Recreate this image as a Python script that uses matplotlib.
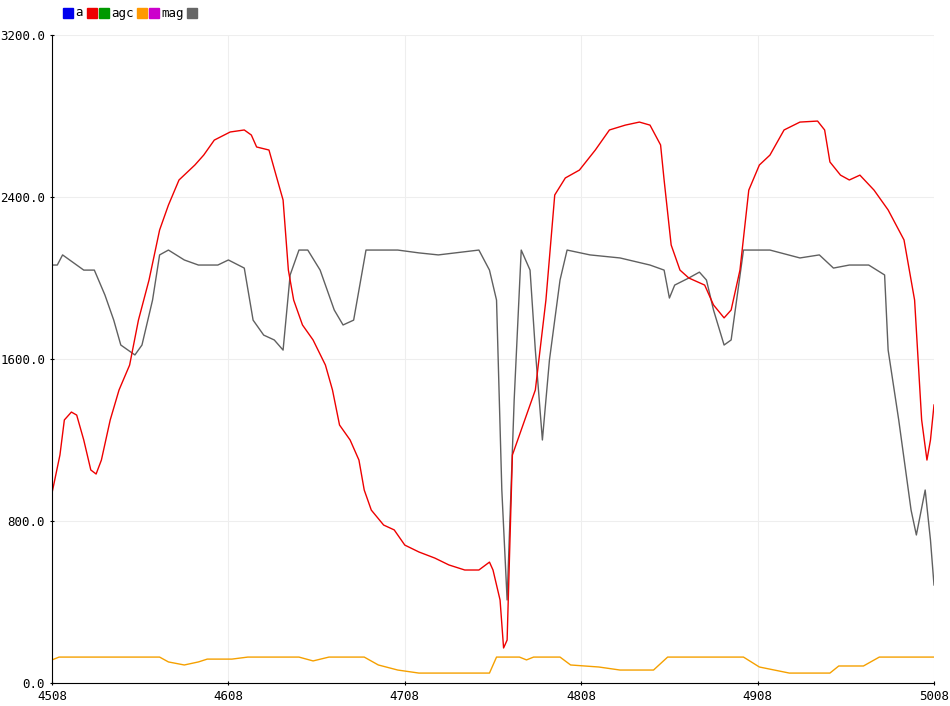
import matplotlib
matplotlib.use("Agg")
import matplotlib.pyplot as plt
from matplotlib.patches import Rectangle

red_x = [4508,4512.5,4515,4519,4522,4526,4530,4533,4536,4541,4546,4552,4557,4563,4569,4574,4580,4589,4594,4600,4609,4617,4621,4624,4631,4635,4639,4642,4645,4650,4656,4663,4667,4671,4677,4682,4685,4689,4696,4702,4708,4716,4725,4733,4742,4750,4756,4758,4762,4764,4766,4769,4772,4776,4782,4788,4793,4799,4807,4816,4824,4833,4841,4847,4853,4855,4859,4864,4869,4878,4883,4889,4893,4898,4903,4909,4915,4923,4932,4942,4946,4949,4955,4960,4966,4974,4982,4991,4997,5001,5004,5006,5008]
red_y = [938,1126,1299,1338,1323,1200,1052,1032,1101,1299,1447,1570,1792,1990,2237,2360,2484,2558,2607,2681,2721,2731,2706,2647,2632,2508,2385,2039,1891,1768,1694,1570,1447,1274,1200,1101,953,854,780,756,681,647,617,583,558,558,597,558,410,173,212,1126,1200,1299,1447,1891,2410,2494,2533,2632,2731,2755,2770,2755,2657,2484,2163,2039,2000,1965,1867,1803,1842,2039,2434,2558,2607,2731,2770,2775,2731,2573,2508,2484,2508,2434,2336,2188,1891,1299,1101,1200,1373]

mag_x = [4508,4511,4514,4518,4526,4532,4538,4543,4547,4555,4559,4565,4569,4574,4583,4591,4602,4608,4617,4622,4628,4634,4639,4643,4648,4653,4660,4668,4673,4679,4686,4693,4704,4716,4727,4750,4756,4760,4763,4766,4770,4774,4779,4782,4786,4790,4796,4800,4813,4830,4847,4855,4858,4861,4869,4875,4879,4883,4889,4893,4900,4915,4932,4943,4951,4960,4971,4980,4982,4988,4995,4998,5003,5006,5008]
mag_y = [2064,2064,2114,2089,2039,2039,1916,1792,1669,1620,1669,1891,2114,2138,2089,2064,2064,2089,2049,1792,1718,1694,1644,2015,2138,2138,2039,1842,1768,1792,2138,2138,2138,2124,2114,2138,2039,1891,953,410,1397,2138,2039,1644,1200,1595,1990,2138,2114,2099,2064,2039,1901,1965,2000,2029,1990,1842,1669,1694,2138,2138,2099,2114,2049,2064,2064,2015,1644,1299,854,731,953,706,484]

agc_x = [4508,4512,4569,4574,4583,4591,4596,4610,4619,4648,4656,4665,4685,4693,4704,4716,4756,4760,4773,4777,4781,4796,4802,4818,4830,4849,4857,4900,4909,4926,4949,4954,4968,4977,5008]
agc_y = [114,128,128,104,89,104,118,118,128,128,109,128,128,89,64,49,49,128,128,114,128,128,89,79,64,64,128,128,79,49,49,84,84,128,128]

x_ticks = [4508,4608,4708,4808,4908,5008]
y_ticks = [0,800,1600,2400,3200]

fig = plt.figure(figsize=(9.5,7.06), dpi=100)
ax = fig.add_axes([52/950, 23/706, 882/950, 648/706])
ax.plot(agc_x, agc_y, color='#f5a000', lw=1)
ax.plot(mag_x, mag_y, color='#606060', lw=1)
ax.plot(red_x, red_y, color='#ee0000', lw=1)
ax.set_xlim(4508,5008); ax.set_ylim(0,3200)
ax.set_xticks(x_ticks); ax.set_xticklabels([str(v) for v in x_ticks])
ax.set_yticks(y_ticks); ax.set_yticklabels([f"{v:.1f}" for v in y_ticks])
ax.grid(True, color='#eeeeee', lw=0.8)
for s in ['top','right']: ax.spines[s].set_visible(False)
ax.tick_params(labelsize=9, length=3, direction='inout')
for l in ax.get_xticklabels()+ax.get_yticklabels(): l.set_family('DejaVu Sans Mono')

# legend row
items = [('sq','#0000ee'),('t','a'),('sq','#ee0000'),('sq','#009900'),('t','agc'),('sq','#ff9900'),('sq','#cc00cc'),('t','mag'),('sq','#666666')]
xp = 63
for kind, v in items:
    if kind == 'sq':
        fig.patches.append(Rectangle((xp/950, (706-18)/706), 10/950, 10/706, color=v, transform=fig.transFigure))
        xp += 12
    else:
        fig.text(xp/950, (706-13)/706, v, fontsize=9, family='DejaVu Sans Mono', va='center')
        xp += 7*len(v) + 5
fig.savefig('out.png')
